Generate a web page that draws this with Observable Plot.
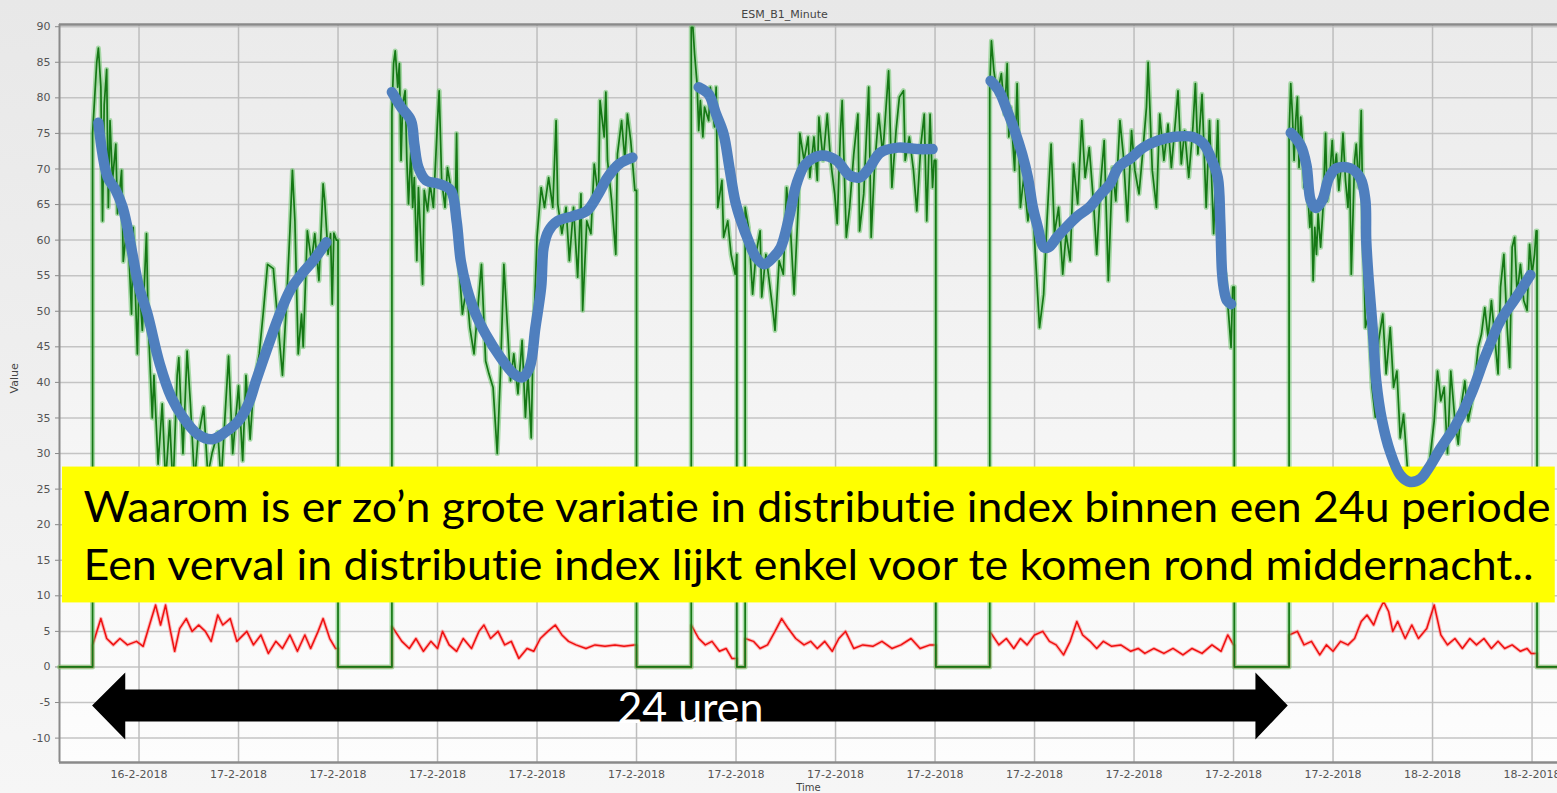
<!DOCTYPE html>
<html><head><meta charset="utf-8">
<script src="https://cdn.jsdelivr.net/npm/d3@7"></script>
<script src="https://cdn.jsdelivr.net/npm/@observablehq/plot@0.6"></script>
<style>html,body{margin:0;padding:0;background:#fff;overflow:hidden} svg text{font-variant-ligatures:none}</style>
</head><body><div id="chart"></div>
<script>
// ---- time: minutes relative to 17-2-2018 00:00 ----
const xStart = -215.9, xEnd = 1590.7;
const yTicks = [-10,-5,0,5,10,15,20,25,30,35,40,45,50,55,60,65,70,75,80,85,90];
const yDomain = [-13.43, 90.31];

// green series (distributie index), 5 measurement blocks
const g1t = [-176,-176,-171,-169,-166,-164,-162,-159,-157,-155,-152,-148,-146,-141,-139,-134,-129,-127,-122,-120,-116,-111,-109,-104,-102,-97,-92,-88,-83,-79,-74,-72,-67,-62,-58,-53,-49,-42,-37,-32,-25,-21,-12,-7,0,5,9,14,18,25,30,35,42,46,53,58,62,65,68,72,76,78,83,88,92,97,102,104,108,111,113,115,118,120,120];
const g1v = [0,75,85,87,81.5,62.7,79,84,64.6,76.8,68.4,73.5,63.7,69.8,57,62.7,49.6,61.8,44,54.3,47.3,60.9,48.7,35,41,28.5,37,26,34.6,25,41,43.5,30,44.4,37,26,32,36.5,27,30,33,26,43.7,30,39.5,29,41,32,39,44,50,56.6,56,50.5,41,51.5,61.3,69.8,62.7,44,49.6,45,61.3,57,60.9,54.3,67.9,65.5,58,60.9,51,61,60,60,0];
const g2t = [185,185,187,189,192,194,196,198,201,203,205,208,210,212,215,217,222,224,228,231,235,240,242,245,249,252,256,261,263,265,270,275,279,284,288,293,298,302,307,312,316,320,323,328,332,337,342,346,349,353,355,360,365,369,374,379,383,385,390,395,399,404,409,413,415,420,425,429,434,436,441,443,445,450,455,457,462,466,469,473,478,480,480];
const g2v = [0,78,84.8,86.6,81.5,84.8,71.2,79.1,81,71.2,65.1,73,64.6,68.8,57.1,67.4,53.8,67,64.1,67.9,64.6,76.8,81,68.4,64.6,70.2,67.4,61.8,75,58,49.6,53.4,47.7,44,49.6,56.6,43,41.2,39.3,30,41.6,56.6,50.5,40.2,44,38.4,45.9,35.1,41.2,32.2,44,60.4,67.4,64.6,68.8,64.6,76.8,65.1,60.9,64.6,57.1,64.6,54.8,66.5,50.1,62.7,60.9,70.7,66,79.6,74.5,80.8,71.2,65.5,58,72.1,76.8,71.2,77.7,74,67,67,0];
const g3t = [546,546,548,550,553,555,557,560,562,567,569,574,576,578,583,585,590,594,599,601,601,611,611,615,620,624,629,631,636,640,645,647,652,657,661,666,670,675,677,682,687,689,694,698,700,705,710,714,719,722,726,728,733,737,742,747,749,754,760,763,767,772,777,784,788,793,797,802,804,809,814,818,823,827,830,834,837,839,841,841];
const g3v = [0,89.9,89.9,86.2,82,75.4,79.6,74.5,78.7,76.8,81.5,75.9,81.5,64.6,68.4,60.4,62.7,58,55.2,58,0,0,64.6,61.8,52.4,58,61.3,52,58,54.3,49.6,47.3,57.1,55.2,67.4,60.9,52.4,64.6,75,71.2,74.5,68.8,74.5,68.4,77.3,71.2,77.7,71.2,66.5,62.3,75.4,79.6,60.4,64.6,72.1,77.7,61.3,66.5,81.5,60.4,70.2,77.7,72.1,83.8,67.4,75.4,80.1,81,71.2,74.5,69.8,64.1,73.5,77.7,62.7,77.7,67.4,71.2,71.2,0];
const g4t = [906,906,908,911,915,920,924,927,929,931,936,939,943,947,952,957,961,966,971,975,980,984,989,994,998,1003,1007,1012,1017,1021,1026,1031,1035,1040,1044,1049,1054,1058,1063,1067,1072,1077,1081,1086,1091,1095,1097,1102,1107,1111,1116,1121,1125,1130,1133,1137,1141,1146,1151,1154,1157,1162,1167,1171,1176,1181,1185,1190,1194,1197,1199,1201,1201];
const g4v = [0,81.5,88,83.8,80.5,83.4,77.7,84.8,74.5,78.7,69.8,82,64.6,68.8,62.7,66.5,58,47.7,52.4,62.7,73.5,60.9,64.6,55.2,60.9,57.1,70.7,65.1,76.8,68.8,73,65.5,58,68.4,74,54.3,70.2,65.5,76.8,72.1,62.7,75.4,69.8,66.5,73,78.7,85,69.8,64.6,77.7,71.2,76.3,70.2,76.8,81,70.7,75.4,68.8,75.9,82,72.1,80.5,64.6,76.8,60.9,76.8,57.1,55.2,49.6,44.9,53.4,53.4,0];
const g5t = [1267,1267,1269,1271,1273,1275,1277,1279,1281,1283,1285,1287,1292,1294,1296,1298,1300,1302,1305,1308,1311,1313,1316,1319,1321,1324,1327,1330,1332,1335,1338,1340,1342,1346,1348,1351,1354,1356,1359,1363,1367,1371,1375,1380,1384,1389,1393,1397,1401,1405,1410,1414,1420,1428,1436,1442,1446,1450,1454,1458,1462,1467,1471,1475,1479,1483,1487,1491,1495,1499,1503,1507,1511,1515,1519,1522,1526,1530,1533,1536,1539,1542,1546,1550,1554,1557,1560,1563,1565,1566,1566];
const g5v = [0,75,82,77.7,71.2,76.8,80.1,70.2,77.3,74,67.4,71.2,61.8,64.6,54.3,61.8,58,63.7,59,64.6,75,65.5,68.8,74,69.3,72.1,67,70.7,75,68.4,64.6,70.2,55.2,71.2,73.5,67.4,78.2,62.7,47.7,49.6,39.3,35.1,45.9,49.6,41.2,47.7,39.3,41.6,32.2,35.5,27.5,24.3,22.9,25.2,28.5,34.6,41.6,37.4,39.3,30,41.6,34.6,31.3,37,40.2,34.6,37,40.2,44.9,46.8,50.5,46.3,51.5,46.3,41.2,53.4,58,47.7,42.1,59,60.4,52.4,56.6,51.5,50.1,59.4,55.2,58,61.3,61.3,0];

// red series
const r1t = [-176,-176,-166,-159,-151,-143,-134,-123,-115,-105,-100,-94,-88,-82,-77,-71,-63,-56,-48,-40,-33,-25,-19,-10,-2,10,18,27,36,45,53,62,71,80,87,96,102,110,117,120,120];
const r1v = [0,3.1,6.8,4,3.1,4,3.1,3.6,2.9,6.8,8.7,5.9,8.7,5,2.2,5.4,6.8,5,5.9,5,3.6,7.3,5.9,6.8,3.6,5,3.1,4.5,1.9,3.6,2.6,4.5,2.2,4.5,2.6,5,6.8,4,2.6,2.6,0];
const r2t = [185,185,197,206,214,223,232,240,246,254,263,271,281,290,296,304,313,321,329,338,348,356,364,373,382,390,398,407,419,430,442,454,465,477,480,480];
const r2v = [0,5.7,3.6,2.6,4,2.2,3.6,2.6,5,3.1,2.2,4,2.6,5,5.9,4,5,3.1,3.6,1.2,2.6,2.2,4,5,5.9,4.5,3.6,3.1,2.6,3.1,2.9,3.1,2.9,3.1,3.1,0];
const r3t = [546,546,555,563,571,580,588,595,601,601,611,611,621,629,638,647,655,663,672,682,690,698,707,716,724,732,742,753,765,776,788,799,811,822,834,841,841];
const r3v = [0,5.9,4,3.1,3.6,2.2,2.6,1.2,1.2,0,0,4,3.6,2.6,3.1,5,6.8,5.4,4,3.1,3.6,2.6,3.6,2.2,4,5,2.6,3.1,2.9,3.6,2.6,3.1,4,2.6,3.1,3.1,0];
const r4t = [906,906,917,926,935,943,951,960,970,978,986,995,1003,1011,1018,1027,1035,1043,1053,1064,1076,1085,1093,1104,1116,1127,1139,1150,1162,1174,1185,1193,1200,1201,1201];
const r4v = [0,5,3.1,4,2.6,4,3.1,4.5,5,3.6,3.1,1.7,3.6,6.4,4.5,3.6,2.6,3.6,2.9,3.1,2.2,2.6,1.9,2.6,1.9,2.6,1.7,2.6,1.9,3.1,2.2,4.5,3.1,3.1,0];
const r5t = [1267,1267,1277,1285,1294,1304,1312,1320,1329,1338,1346,1354,1361,1369,1375,1381,1387,1392,1398,1407,1415,1423,1433,1442,1450,1458,1467,1476,1485,1493,1502,1511,1519,1527,1536,1546,1554,1559,1566,1566];
const r5v = [0,4.5,5,3.1,3.6,1.7,3.1,2.2,3.6,3.1,4,6.4,7.3,5.9,7.8,9.2,7.8,5,6.4,4,5.9,4,5.4,8.7,4.5,3.1,4,2.6,4,3.1,4,2.6,3.6,2.6,3.1,2.2,2.6,1.9,1.9,0];

// hand-drawn blue trend curves
const b1t = [-169,-158,-148,-140,-134,-128,-120,-110,-95,-81,-67,-49,-32,-16,0,12,21,35,48,62,76,90,106];
const b1v = [76.5,68.9,67,64.7,61.8,58.1,53.4,49.7,42.6,37.9,35.1,32.7,32,33,34.6,37,40.2,44.9,49.1,52.9,55.2,57.1,59.7];
const b2t = [185,196,208,212,217,226,242,256,263,268,275,286,298,316,332,342,351,358,365,368,374,385,404,420,434,445,459,475];
const b2v = [80.8,78.7,76.8,73.5,70.2,68.4,67.9,67,62.7,57.1,53.4,49.6,46.8,43.5,41.2,40.7,42.1,47.7,53.4,59,61.3,62.7,63.4,64.1,66.5,68.8,70.7,71.6];
const b3t = [555,567,576,585,592,599,606,615,624,634,645,654,664,673,684,703,721,737,749,761,774,795,818,837];
const b3v = [81.5,80.5,77.7,74.9,70.2,65.5,62.7,59.9,57.6,56.6,57.6,59,63.2,67.9,70.7,71.9,71.2,69.1,68.8,70.2,72.3,73,72.8,72.8];
const b4t = [907,917,927,936,945,952,958,964,971,977,987,998,1012,1026,1040,1051,1061,1077,1091,1109,1127,1151,1164,1174,1181,1184,1186,1188,1192,1197];
const b4v = [82.4,81,78.2,75.4,72.1,68.8,64.6,61.8,59,59,60.4,61.8,63.4,64.6,66.5,67.9,70.2,71.6,73,74,74.5,74.5,73.5,71.2,68.8,62.7,55.7,53.4,51.5,51];
const b5t = [1269,1281,1288,1293,1299,1307,1315,1324,1341,1353,1359,1360,1363,1368,1372,1379,1389,1401,1413,1426,1435,1450,1468,1486,1504,1522,1540,1558];
const b5v = [75.1,73.3,70.5,65.6,64.5,65.6,68.7,70.1,70.1,68.7,65.6,60,54.4,47.3,40.3,34.7,30.2,27,26,26.5,27.9,30.8,34,38.2,43.8,48.7,51.8,55.1];

// annotations
const noteBox = [{t1: -212.3, t2: 1588, v1: 9.0, v2: 28.1}];
const noteLines = [
  {t: -187, v: 22.3, text: "Waarom is er zo\u2019n grote variatie in distributie index binnen een 24u periode", len: 1467},
  {t: -187, v: 14.2, text: "Een verval in distributie index lijkt enkel voor te komen rond middernacht..", len: 1450}
];
const arrowShape = [
  {t: -176, lo: -5.5, hi: -5.5}, {t: -136, lo: -10.25, hi: -0.84}, {t: -136, lo: -7.72, hi: -3.23},
  {t: 1227, lo: -7.72, hi: -3.23}, {t: 1227, lo: -10.25, hi: -0.84}, {t: 1266, lo: -5.5, hi: -5.5}
];
const arrowLabel = [{t: 545, v: -5.93, text: "24 uren", len: 146}];

// ---- build ----
const base = Date.UTC(2018, 1, 17, 0, 0);
const T = m => new Date(base + m * 60000);
const pts = (ts, vs, seg) => ts.map((t, i) => ({t: T(t), v: vs[i], seg}));
const green = [{t: T(xStart), v: 0}, ...pts(g1t,g1v), ...pts(g2t,g2v), ...pts(g3t,g3v), ...pts(g4t,g4v), ...pts(g5t,g5v), {t: T(xEnd), v: 0}];
const red = [{t: T(xStart), v: 0}, ...pts(r1t,r1v), ...pts(r2t,r2v), ...pts(r3t,r3v), ...pts(r4t,r4v), ...pts(r5t,r5v), {t: T(xEnd), v: 0}];
const blue = [...pts(b1t,b1v,1), ...pts(b2t,b2v,2), ...pts(b3t,b3v,3), ...pts(b4t,b4v,4), ...pts(b5t,b5v,5)];
const xTicks = d3.utcHour.every(2).range(T(xStart), T(xEnd));
const fmt = d3.utcFormat("%-d-%-m-%Y");
const noteFont = "Lato, 'Noto Sans', sans-serif";

function backdrop(index, scales, values, dims) {
  const g = d3.create("svg:g");
  const defs = g.append("defs");
  const og = defs.append("linearGradient").attr("id","obg").attr("x1",0).attr("y1",0).attr("x2",0).attr("y2",1);
  og.append("stop").attr("offset","0%").attr("stop-color","#e8e8e8");
  og.append("stop").attr("offset","100%").attr("stop-color","#f6f6f6");
  const pg = defs.append("linearGradient").attr("id","pbg").attr("x1",0).attr("y1",0).attr("x2",0).attr("y2",1);
  pg.append("stop").attr("offset","0%").attr("stop-color","#ebebeb");
  pg.append("stop").attr("offset","100%").attr("stop-color","#fdfdfd");
  g.append("rect").attr("width", dims.width).attr("height", dims.height).attr("fill","url(#obg)");
  g.append("rect").attr("x", dims.marginLeft).attr("y", dims.marginTop)
    .attr("width", dims.width - dims.marginLeft - dims.marginRight)
    .attr("height", dims.height - dims.marginTop - dims.marginBottom).attr("fill","url(#pbg)");
  return g.node();
}

const chart = Plot.plot({
  width: 1557, height: 793,
  marginLeft: 59, marginRight: 0, marginTop: 24, marginBottom: 31,
  style: {background: "transparent", fontFamily: "'DejaVu Sans', sans-serif", fontSize: "11px", color: "#555", overflow: "visible"},
  x: {type: "utc", domain: [T(xStart), T(xEnd)]},
  y: {domain: yDomain},
  marks: [
    backdrop,
    Plot.gridY(yTicks, {stroke: "#c4c4c4", strokeOpacity: 1, strokeWidth: 1.5}),
    Plot.gridX(xTicks, {stroke: "#bdbdbd", strokeOpacity: 1, strokeWidth: 1.5}),
    Plot.axisY(yTicks, {tickSize: 4, tickPadding: 5, label: null, stroke: "#888", tickFormat: d => String(d)}),
    Plot.axisX(xTicks, {tickSize: 0, tickPadding: 8, tickFormat: fmt, label: null}),
    Plot.ruleX([T(xStart)], {stroke: "#8a8a8a", strokeWidth: 2}),
    Plot.ruleY([yDomain[1]], {stroke: "#8a8a8a", strokeWidth: 2.5}),
    Plot.ruleY([yDomain[0]], {stroke: "#8a8a8a", strokeWidth: 2.5}),
    Plot.line(red, {x: "t", y: "v", stroke: "#ff7a7a", strokeWidth: 3.5, strokeOpacity: 0.55}),
    Plot.line(red, {x: "t", y: "v", stroke: "#ee0f0f", strokeWidth: 1.5}),
    Plot.line(green, {x: "t", y: "v", stroke: "#5fc25f", strokeWidth: 5, strokeOpacity: 0.5}),
    Plot.line(green, {x: "t", y: "v", stroke: "#157815", strokeWidth: 1.7}),
    Plot.rect(noteBox, {x1: d => T(d.t1), x2: d => T(d.t2), y1: "v1", y2: "v2", fill: "#ffff00"}),
    Plot.text(noteLines, {x: d => T(d.t), y: "v", text: "text", textAnchor: "start", fill: "#000", fontSize: 43, fontFamily: noteFont}),
    Plot.area(arrowShape, {x1: d => T(d.t), y1: "lo", y2: "hi", fill: "#000"}),
    Plot.text(arrowLabel, {x: d => T(d.t), y: "v", text: "text", fill: "#fff", fontSize: 43, fontFamily: noteFont}),
    Plot.line(blue, {x: "t", y: "v", z: "seg", stroke: "#4f7fbe", strokeWidth: 10.5, curve: "catmull-rom", strokeLinecap: "round", strokeLinejoin: "round"}),
    Plot.text(["ESM_B1_Minute"], {text: d => d, frameAnchor: "top", dy: -14, dx: -24, fill: "#444"}),
    Plot.text(["Value"], {text: d => d, frameAnchor: "left", dx: -45, rotate: -90, fill: "#444"}),
    Plot.text(["Time"], {text: d => d, frameAnchor: "bottom", dy: 28, fill: "#444", fontSize: 10})
  ]
});

const lens = new Map([...noteLines, ...arrowLabel].map(d => [d.text, d.len]));
chart.querySelectorAll("text").forEach(t => {
  const L = lens.get(t.textContent);
  if (L) { t.setAttribute("textLength", L); t.setAttribute("lengthAdjust", "spacingAndGlyphs"); }
});
document.getElementById("chart").appendChild(chart);
</script></body></html>
